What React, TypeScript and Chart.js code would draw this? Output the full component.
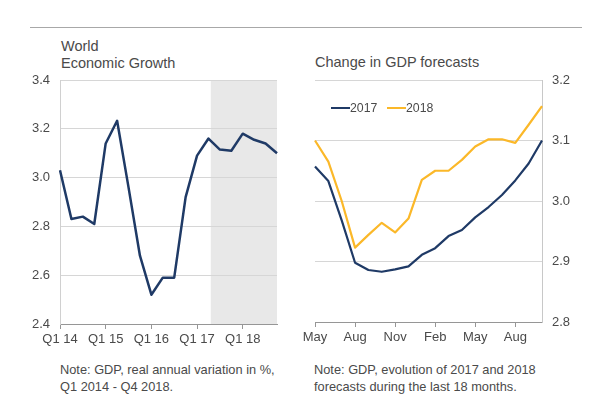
import { useEffect, useRef } from 'react';
import { Chart, registerables } from 'chart.js';

Chart.register(...registerables);

// ---------- Left chart data ----------
const quarterLabels = [
  'Q1 14', 'Q2 14', 'Q3 14', 'Q4 14',
  'Q1 15', 'Q2 15', 'Q3 15', 'Q4 15',
  'Q1 16', 'Q2 16', 'Q3 16', 'Q4 16',
  'Q1 17', 'Q2 17', 'Q3 17', 'Q4 17',
  'Q1 18', 'Q2 18', 'Q3 18', 'Q4 18',
];
const growthValues = [
  3.03, 2.83, 2.84, 2.81,
  3.14, 3.233, 2.96, 2.68,
  2.52, 2.59, 2.59, 2.92,
  3.09, 3.16, 3.115, 3.11,
  3.18, 3.155, 3.14, 3.10,
];
const forecastShadeStart = 13.2; // category position where the shaded (forecast) period begins
const growthYTicks = [2.4, 2.6, 2.8, 3.0, 3.2, 3.4];

// ---------- Right chart data ----------
const monthLabels = [
  'May', 'Jun', 'Jul', 'Aug', 'Sep', 'Oct', 'Nov', 'Dec',
  'Jan', 'Feb', 'Mar', 'Apr', 'May', 'Jun', 'Jul', 'Aug', 'Sep', 'Oct',
];
const forecast2017 = [
  3.057, 3.033, 2.968, 2.898, 2.886, 2.883, 2.887, 2.892, 2.911,
  2.922, 2.942, 2.952, 2.973, 2.99, 3.01, 3.034, 3.062, 3.10,
];
const forecast2018 = [
  3.10, 3.065, 3.0, 2.923, 2.944, 2.964, 2.948, 2.971, 3.035,
  3.05, 3.05, 3.068, 3.09, 3.102, 3.102, 3.096, 3.126, 3.157,
];
const forecastYTicks = [2.8, 2.9, 3.0, 3.1, 3.2];
const seriesNames = ['2017', '2018'];

const NAVY = '#1f3a66';
const YELLOW = '#fbb829';
const GRID = '#d6d6d6';
const AXIS = '#969696';
const TEXT = '#4a4a4a';
const FONT = "'Liberation Sans', Arial, sans-serif";

const shadePlugin = {
  id: 'forecastShade',
  beforeDraw(chart: any) {
    const { ctx, chartArea, scales } = chart;
    const x0 = scales.x.getPixelForValue(forecastShadeStart);
    ctx.save();
    ctx.fillStyle = '#e8e8e8';
    ctx.fillRect(x0, chartArea.top, chartArea.right - x0, chartArea.bottom - chartArea.top);
    ctx.restore();
  },
};

function LeftChart() {
  const ref = useRef<HTMLCanvasElement>(null);
  useEffect(() => {
    if (!ref.current) return;
    const chart = new Chart(ref.current, {
      type: 'line',
      data: {
        labels: quarterLabels,
        datasets: [
          {
            data: growthValues,
            borderColor: NAVY,
            borderWidth: 2.5,
            pointRadius: 0,
            tension: 0,
            borderJoinStyle: 'round',
          },
        ],
      },
      options: {
        animation: false,
        responsive: true,
        maintainAspectRatio: false,
        layout: { padding: { left: 0, right: 20, top: 10, bottom: 0 } },
        plugins: { legend: { display: false }, tooltip: { enabled: false } },
        scales: {
          x: {
            type: 'category',
            offset: false,
            afterFit: (s: any) => { s.height = 36; },
            grid: {
              drawOnChartArea: false,
              drawTicks: true,
              tickLength: 5,
              color: (c: any) => (c.index % 4 === 0 ? AXIS : 'rgba(0,0,0,0)'),
            },
            border: { display: true, color: AXIS, width: 1 },
            ticks: {
              autoSkip: false,
              maxRotation: 0,
              padding: 3,
              color: TEXT,
              font: { family: FONT, size: 13 },
              callback: (_v: any, i: number) => (i % 4 === 0 ? quarterLabels[i] : ''),
            },
          },
          y: {
            min: 2.4,
            max: 3.4,
            afterFit: (s: any) => { s.width = 60; s.paddingTop = 0; s.paddingBottom = 0; },
            afterBuildTicks: (s: any) => { s.ticks = growthYTicks.map((v) => ({ value: v })); },
            grid: { color: GRID, drawTicks: false },
            border: { display: true, color: '#d0d0d0' },
            ticks: {
              padding: 10,
              color: TEXT,
              font: { family: FONT, size: 13 },
              callback: (v: any) => Number(v).toFixed(1),
            },
          },
        },
      },
      plugins: [shadePlugin],
    });
    return () => chart.destroy();
  }, []);
  return (
    <div style={{ position: 'absolute', left: 0, top: 70, width: 297, height: 290 }}>
      <canvas ref={ref} />
    </div>
  );
}

function RightChart() {
  const ref = useRef<HTMLCanvasElement>(null);
  useEffect(() => {
    if (!ref.current) return;
    const chart = new Chart(ref.current, {
      type: 'line',
      data: {
        labels: monthLabels,
        datasets: [
          {
            label: seriesNames[0],
            data: forecast2017,
            borderColor: NAVY,
            borderWidth: 2.2,
            pointRadius: 0,
            tension: 0,
            borderJoinStyle: 'round',
          },
          {
            label: seriesNames[1],
            data: forecast2018,
            borderColor: YELLOW,
            borderWidth: 2.2,
            pointRadius: 0,
            tension: 0,
            borderJoinStyle: 'round',
          },
        ],
      },
      options: {
        animation: false,
        responsive: true,
        maintainAspectRatio: false,
        layout: { padding: { left: 18, right: 0, top: 10, bottom: 0 } },
        plugins: { legend: { display: false }, tooltip: { enabled: false } },
        scales: {
          x: {
            type: 'category',
            offset: false,
            afterFit: (s: any) => { s.height = 38; },
            grid: {
              drawOnChartArea: false,
              drawTicks: true,
              tickLength: 5,
              color: (c: any) => (c.index % 3 === 0 ? AXIS : 'rgba(0,0,0,0)'),
            },
            border: { display: true, color: AXIS, width: 1 },
            ticks: {
              autoSkip: false,
              maxRotation: 0,
              padding: 3,
              color: TEXT,
              font: { family: FONT, size: 13 },
              callback: (_v: any, i: number) => (i % 3 === 0 ? monthLabels[i] : ''),
            },
          },
          y: {
            position: 'right',
            min: 2.8,
            max: 3.2,
            afterFit: (s: any) => { s.width = 55; s.paddingTop = 0; s.paddingBottom = 0; },
            afterBuildTicks: (s: any) => { s.ticks = forecastYTicks.map((v) => ({ value: v })); },
            grid: { color: GRID, drawTicks: false },
            border: { display: true, color: '#c8c8c8' },
            ticks: {
              padding: 10,
              color: TEXT,
              font: { family: FONT, size: 13 },
              callback: (v: any) => Number(v).toFixed(1),
            },
          },
        },
      },
    });
    return () => chart.destroy();
  }, []);
  return (
    <div style={{ position: 'absolute', left: 297, top: 70, width: 300, height: 290 }}>
      <canvas ref={ref} />
    </div>
  );
}

const textBase: React.CSSProperties = {
  position: 'absolute',
  fontFamily: FONT,
  color: '#4a4a4a',
  whiteSpace: 'nowrap',
};

function LegendItem({ left, color, label }: { left: number; color: string; label: string }) {
  return (
    <div style={{ position: 'absolute', left, top: 100, height: 16, display: 'flex', alignItems: 'center' }}>
      <div style={{ width: 19, height: 2.6, background: color, marginRight: 0 }} />
      <span style={{ fontFamily: FONT, fontSize: 12.3, color: '#4a4a4a', lineHeight: '16px' }}>{label}</span>
    </div>
  );
}

export default function App() {
  return (
    <div
      style={{
        position: 'absolute',
        left: 0,
        top: 0,
        width: 597,
        height: 403,
        background: '#ffffff',
        overflow: 'hidden',
      }}
    >
      <div style={{ position: 'absolute', left: 30, top: 26.5, width: 552, height: 1, background: '#a8a8a8' }} />
      <div style={{ ...textBase, left: 61, top: 38.4, fontSize: 14.5, lineHeight: '16.6px' }}>
        World
        <br />
        Economic Growth
      </div>
      <div style={{ ...textBase, left: 315, top: 54.4, fontSize: 14.5, lineHeight: '16.6px' }}>
        Change in GDP forecasts
      </div>
      <LeftChart />
      <RightChart />
      <LegendItem left={331} color={NAVY} label={seriesNames[0]} />
      <LegendItem left={387} color={YELLOW} label={seriesNames[1]} />
      <div style={{ ...textBase, left: 60, top: 362.2, fontSize: 12.8, lineHeight: '16.7px' }}>
        Note: GDP, real annual variation in %,
        <br />
        Q1 2014 - Q4 2018.
      </div>
      <div style={{ ...textBase, left: 314, top: 362.2, fontSize: 12.8, lineHeight: '16.7px' }}>
        Note: GDP, evolution of 2017 and 2018
        <br />
        forecasts during the last 18 months.
      </div>
    </div>
  );
}
